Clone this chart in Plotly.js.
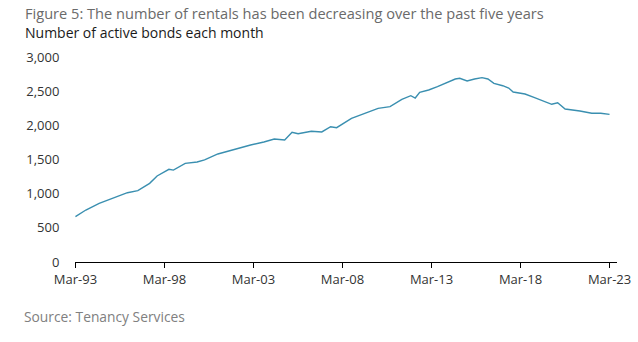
<!DOCTYPE html>
<html>
<head>
<meta charset="utf-8">
<script src="https://cdn.plot.ly/plotly-3.0.1.min.js"></script>
<style>
  html, body { margin: 0; padding: 0; background: #ffffff; }
  #chart { width: 638px; height: 342px; }
</style>
</head>
<body>
<div id="chart"></div>
<script>
// Months
const months = [
  '1993-03','1993-10','1994-07','1995-04','1996-02','1996-09','1997-05','1997-10',
  '1998-06','1998-09','1999-05','2000-01','2000-06','2001-03','2002-02','2003-01',
  '2003-10','2004-05','2004-12','2005-05','2005-09','2006-06','2007-01','2007-07',
  '2007-11','2008-04','2008-09','2009-06','2010-03','2010-11','2011-07','2012-01',
  '2012-04','2012-07','2013-01','2013-07','2014-01','2014-07','2014-10','2015-03',
  '2015-08','2016-01','2016-05','2016-09','2017-03','2017-07','2017-10','2018-06',
  '2018-12','2019-06','2019-12','2020-04','2020-09','2021-07','2022-03','2022-09',
  '2023-03'
];
// Number of active bonds each month
const activeBonds = [
  663, 761, 859, 932, 1014, 1044, 1151, 1259,
  1356, 1345, 1444, 1463, 1495, 1581, 1649, 1712,
  1756, 1800, 1785, 1898, 1878, 1913, 1903, 1980,
  1966, 2039, 2103, 2176, 2249, 2273, 2381, 2434,
  2400, 2483, 2517, 2566, 2624, 2678, 2688, 2649,
  2678, 2698, 2678, 2615, 2580, 2546, 2488, 2459,
  2410, 2361, 2308, 2331, 2239, 2210, 2176, 2176,
  2161
];
// Axis ticks
const xTickVals = ['1993-03-01','1998-03-01','2003-03-01','2008-03-01','2013-03-01','2018-03-01','2023-03-01'];
const xTickText = ['Mar-93','Mar-98','Mar-03','Mar-08','Mar-13','Mar-18','Mar-23'];
const yTickVals = [0, 500, 1000, 1500, 2000, 2500, 3000];

const FONT = '"Open Sans", "Noto Sans", sans-serif';

const trace = {
  x: months,
  y: activeBonds,
  type: 'scatter',
  mode: 'lines',
  line: { color: '#3a8fb0', width: 1.4 },
  hoverinfo: 'skip'
};

const layout = {
  width: 638,
  height: 342,
  margin: { l: 75, r: 21, t: 57, b: 80 },
  paper_bgcolor: '#ffffff',
  plot_bgcolor: '#ffffff',
  showlegend: false,
  font: { family: FONT, size: 13, color: '#333333' },
  xaxis: {
    type: 'date',
    range: ['1993-02-20', '2023-08-01'],
    tickvals: xTickVals,
    ticktext: xTickText,
    showgrid: false,
    zeroline: false,
    showline: true,
    linecolor: '#000000',
    linewidth: 1,
    ticks: 'outside',
    ticklen: 5,
    tickcolor: '#000000',
    tickfont: { family: FONT, size: 13, color: '#333333' }
  },
  yaxis: {
    range: [0, 3000],
    tickvals: yTickVals,
    tickformat: ',d',
    showgrid: false,
    zeroline: false,
    showline: false,
    ticks: 'outside',
    ticklen: 12,
    tickcolor: 'rgba(0,0,0,0)',
    tickfont: { family: FONT, size: 13, color: '#333333' }
  },
  annotations: [
    {
      text: 'Figure 5: The number of rentals has been decreasing over the past five years',
      xref: 'paper', yref: 'paper', x: -52/542, y: 1 + 44/205,
      xanchor: 'left', yanchor: 'middle', showarrow: false,
      font: { family: FONT, size: 14.6, color: '#6a6a6a' }
    },
    {
      text: 'Number of active bonds each month',
      xref: 'paper', yref: 'paper', x: -52/542, y: 1 + 24/205,
      xanchor: 'left', yanchor: 'middle', showarrow: false,
      font: { family: FONT, size: 14, color: '#1a1a1a' }
    },
    {
      text: 'Source: Tenancy Services',
      xref: 'paper', yref: 'paper', x: -53/542, y: -54/205,
      xanchor: 'left', yanchor: 'middle', showarrow: false,
      font: { family: FONT, size: 13.8, color: '#808080' }
    }
  ]
};

Plotly.newPlot('chart', [trace], layout, { staticPlot: true, displayModeBar: false });
</script>
</body>
</html>
